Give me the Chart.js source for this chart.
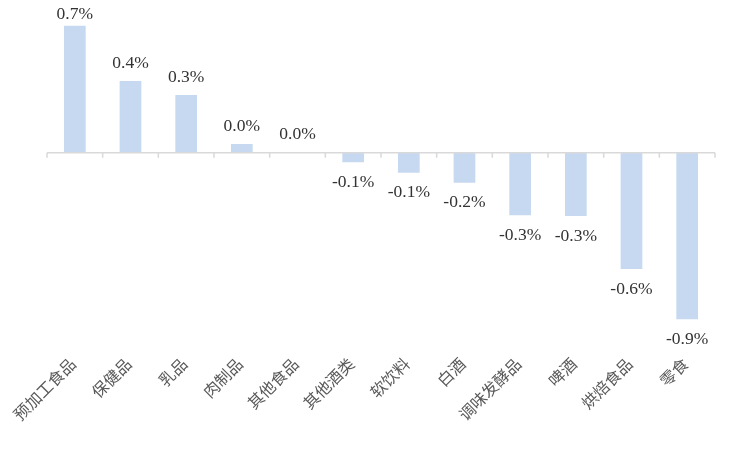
<!DOCTYPE html>
<html>
<head>
<meta charset="utf-8">
<script src="https://cdn.jsdelivr.net/npm/chart.js@4"></script>
<style>
  html, body { margin: 0; padding: 0; background: #fff; }
  #wrap { width: 756px; height: 472px; }
</style>
</head>
<body>
<div id="wrap"><canvas id="chart" width="756" height="472"></canvas></div>
<script>
const categories = ['预加工食品', '保健品', '乳品', '肉制品', '其他食品', '其他酒类', '软饮料', '白酒', '调味发酵品', '啤酒', '烘焙食品', '零食'];
const changes = [0.69, 0.39, 0.314, 0.047, 0.003, -0.051, -0.109, -0.163, -0.339, -0.344, -0.632, -0.904];

// value labels + zero axis with tick marks
const axisAndLabels = {
    id: 'axisAndLabels',
    afterDatasetsDraw(chart) {
        const ctx = chart.ctx;
        const x = chart.scales.x;
        const y = chart.scales.y;
        const area = chart.chartArea;
        const y0 = y.getPixelForValue(0);

        ctx.save();
        ctx.strokeStyle = '#d9d9d9';
        ctx.lineWidth = 1.5;
        ctx.beginPath();
        ctx.moveTo(area.left, y0);
        ctx.lineTo(area.right, y0);
        const step = x.getPixelForValue(1) - x.getPixelForValue(0);
        for (let i = 0; i <= categories.length; i++) {
            const px = x.getPixelForValue(0) - step / 2 + i * step;
            ctx.moveTo(px, y0);
            ctx.lineTo(px, y0 + 5);
        }
        ctx.stroke();

        ctx.fillStyle = '#333';
        ctx.font = '17.5px "Liberation Serif", "Times New Roman", serif';
        ctx.textAlign = 'center';
        ctx.textBaseline = 'middle';
        const meta = chart.getDatasetMeta(0);
        meta.data.forEach((bar, i) => {
            const v = changes[i];
            const ty = v >= 0 ? Math.max(bar.y - 18, area.top + 9) : bar.y + 20;
            ctx.fillText(v.toFixed(1) + '%', bar.x, ty);
        });
        ctx.restore();
    }
};

new Chart(document.getElementById('chart'), {
    type: 'bar',
    data: {
        labels: categories,
        datasets: [{
            data: changes,
            backgroundColor: '#c6d9f0',
            categoryPercentage: 1,
            barPercentage: 0.39
        }]
    },
    options: {
        responsive: false,
        animation: false,
        layout: { padding: { left: 47, right: 41, top: 5.5, bottom: 26 } },
        plugins: {
            legend: { display: false },
            tooltip: { enabled: false }
        },
        scales: {
            x: {
                grid: { display: false, drawTicks: false },
                border: { display: false },
                ticks: {
                    minRotation: 45,
                    maxRotation: 45,
                    padding: 8,
                    labelOffset: -2,
                    color: '#595959',
                    font: { family: '"Noto Sans CJK SC"', size: 16 }
                },
                afterFit(scale) { scale.height = 100; }
            },
            y: {
                display: false,
                min: -1.05,
                max: 0.8
            }
        }
    },
    plugins: [axisAndLabels]
});
</script>
</body>
</html>
